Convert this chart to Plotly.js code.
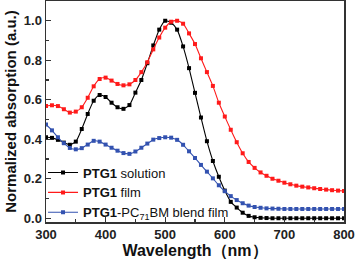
<!DOCTYPE html>
<html>
<head>
<meta charset="utf-8">
<script src="https://cdn.plot.ly/plotly-3.0.1.min.js"></script>
<style>html,body{margin:0;padding:0;background:#fff;}#chart{width:355px;height:264px;}</style>
</head>
<body>
<div id="chart"></div>
<script>
const wavelength = [300,310,320,330,340,350,360,370,380,390,400,410,420,430,440,450,460,470,480,490,500,510,520,530,540,550,560,570,580,590,600,610,620,630,640,650,660,670,680,690,700,710,720,730,740,750,760,770,780,790,800];
const solution = [0.41,0.407,0.397,0.383,0.372,0.388,0.452,0.528,0.595,0.624,0.614,0.585,0.562,0.554,0.573,0.636,0.70,0.785,0.875,0.955,1.0,0.99,0.955,0.87,0.76,0.635,0.51,0.39,0.29,0.21,0.14,0.083,0.054,0.028,0.012,0.005,0.002,0.001,0.0,0.0,0.0,0.0,0.0,0.0,0.0,0.0,0.0,0.0,0.0,0.0,0.0];
const film = [0.568,0.572,0.568,0.552,0.535,0.54,0.562,0.61,0.668,0.705,0.712,0.697,0.68,0.673,0.678,0.70,0.74,0.79,0.855,0.915,0.965,0.995,1.0,0.985,0.936,0.882,0.81,0.74,0.67,0.585,0.515,0.448,0.385,0.329,0.285,0.255,0.232,0.215,0.2,0.19,0.18,0.172,0.165,0.16,0.156,0.152,0.148,0.145,0.142,0.14,0.138];
const blend = [0.475,0.445,0.41,0.38,0.356,0.349,0.355,0.373,0.392,0.388,0.373,0.357,0.342,0.33,0.326,0.338,0.357,0.378,0.398,0.406,0.41,0.408,0.397,0.372,0.339,0.305,0.27,0.236,0.202,0.167,0.137,0.112,0.092,0.076,0.064,0.057,0.053,0.05,0.049,0.048,0.047,0.047,0.047,0.047,0.047,0.047,0.047,0.047,0.047,0.047,0.047];
const seriesNames = ['<b>PTG1</b> solution','<b>PTG1</b> film','<b>PTG1</b>-PC<sub>71</sub>BM blend film'];
const colors = ['#000000','#ff1a1a','#3352b0'];
const ys = [solution, film, blend];

const FONT = 'Arial, "Liberation Sans", sans-serif';
const traces = ys.map((y,i)=>({
  x: wavelength, y: y, name: seriesNames[i], type:'scatter', mode:'lines+markers',
  line:{color:colors[i], width:1.1, shape:'spline', smoothing:0.6},
  marker:{symbol:'square', size:4, color:colors[i]}
}));

const layout = {
  width:355, height:264,
  margin:{l:46, r:11, t:1, b:42},
  paper_bgcolor:'#fff', plot_bgcolor:'#fff',
  showlegend:true,
  legend:{x:-0.01, y:-0.025, xanchor:'left', yanchor:'bottom', bgcolor:'rgba(0,0,0,0)',
          font:{family:FONT, size:13, color:'#111'}, tracegroupgap:0, itemwidth:30},
  xaxis:{range:[300,800], tickvals:[300,400,500,600,700,800], ticks:'inside', ticklen:5, tickwidth:1.2,
         tickcolor:'#333', showline:true, linecolor:'#333', linewidth:1.5, mirror:true, showgrid:false, zeroline:false,
         minor:{dtick:50, ticks:'inside', ticklen:3, tickcolor:'#333', showgrid:false},
         tickfont:{family:FONT, size:13, color:'#222', weight:'bold'},
         title:{text:'<b>Wavelength（nm）</b>', font:{family:FONT, size:16, color:'#111'}, standoff:3}},
  yaxis:{range:[-0.019,1.10], tickvals:[0,0.2,0.4,0.6,0.8,1.0], ticktext:['0.0','0.2','0.4','0.6','0.8','1.0'],
         ticks:'inside', ticklen:5, tickwidth:1.2, tickcolor:'#333', showline:true, linecolor:'#333', linewidth:1.5,
         mirror:true, showgrid:false, zeroline:false,
         minor:{dtick:0.1, ticks:'inside', ticklen:3, tickcolor:'#333', showgrid:false},
         tickfont:{family:FONT, size:13, color:'#222', weight:'bold'},
         title:{text:'<b>Normalized absorption (a.u.)</b>', font:{family:FONT, size:15, color:'#111'}, standoff:3}}
};
Plotly.newPlot('chart', traces, layout, {displayModeBar:false, staticPlot:true});
</script>
</body>
</html>
